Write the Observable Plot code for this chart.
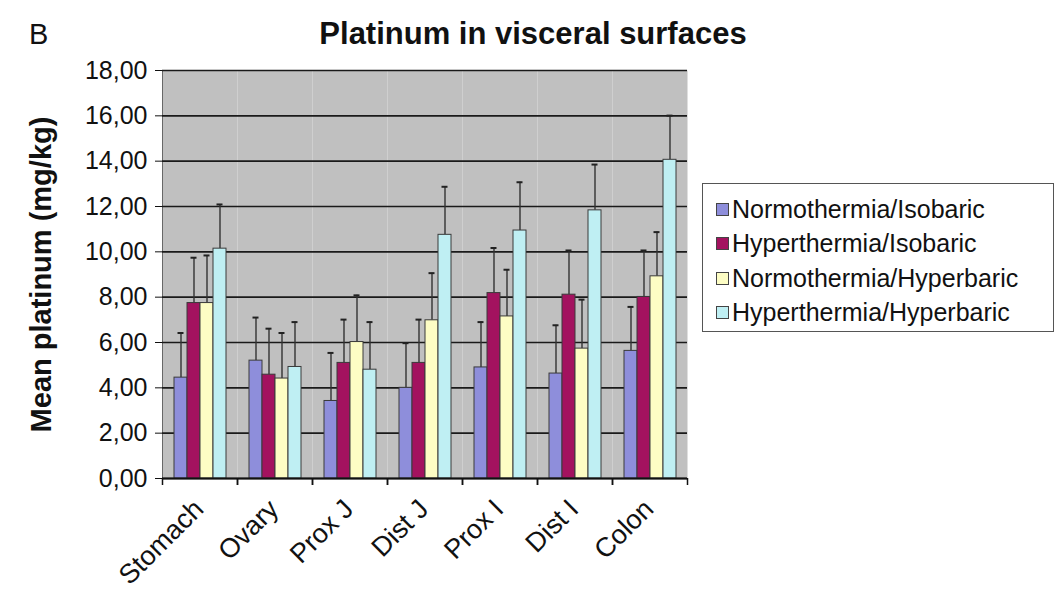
<!DOCTYPE html>
<html>
<head>
<meta charset="utf-8">
<script src="https://cdn.jsdelivr.net/npm/d3@7"></script>
<script src="https://cdn.jsdelivr.net/npm/@observablehq/plot@0.6"></script>
<style>
  html, body { margin: 0; padding: 0; background: #fff; }
  #wrap { position: relative; width: 1059px; height: 592px; font-family: "Liberation Sans", Arial, sans-serif; color: #111; }
  #chart { position: absolute; left: 0; top: 0; }
  #title { position: absolute; left: 533px; top: 16px; transform: translateX(-50%); font-weight: bold; font-size: 31px; white-space: nowrap; }
  #panel { position: absolute; left: 29px; top: 18px; font-size: 29px; }
  #legend { position: absolute; left: 702px; top: 183px; width: 352px; height: 149px; border: 1.5px solid #555; box-sizing: border-box; padding: 8px 0 0 13px; }
  .item { display: flex; align-items: center; height: 34.5px; font-size: 25px; white-space: nowrap; }
  .sw { width: 11px; height: 11px; border: 1px solid #444; margin-right: 3px; flex: none; }
  svg [aria-label="y-axis label"] text, svg g[aria-label="y-axis label"] { font-weight: bold; font-size: 29px; }
</style>
</head>
<body>
<div id="wrap">
  <div id="chart"></div>
  <div id="panel">B</div>
  <div id="title">Platinum in visceral surfaces</div>
  <div id="legend"></div>
</div>
<script>
const categories = ["Stomach", "Ovary", "Prox J", "Dist J", "Prox I", "Dist I", "Colon"];
const series = ["Normothermia/Isobaric", "Hyperthermia/Isobaric", "Normothermia/Hyperbaric", "Hyperthermia/Hyperbaric"];
const colors = ["#8e8edb", "#a3125f", "#fdfdc4", "#bfeff3"];

const normIso = [4.45, 5.20, 3.42, 4.00, 4.90, 4.63, 5.63];
const normIsoSD = [1.97, 1.90, 2.12, 1.97, 2.00, 2.13, 1.94];
const hyperIso = [7.74, 4.58, 5.10, 5.10, 8.18, 8.11, 8.01];
const hyperIsoSD = [2.00, 2.03, 1.91, 1.91, 1.99, 1.95, 2.05];
const normHyp = [7.74, 4.41, 6.02, 6.98, 7.15, 5.73, 8.92];
const normHypSD = [2.10, 2.01, 2.06, 2.08, 2.06, 2.16, 1.95];
const hyperHyp = [10.14, 4.92, 4.80, 10.75, 10.94, 11.83, 14.06];
const hyperHypSD = [1.95, 1.98, 2.10, 2.12, 2.13, 2.02, 1.95];

const yTicks = [0, 2, 4, 6, 8, 10, 12, 14, 16, 18];

const means = [normIso, hyperIso, normHyp, hyperHyp];
const sds = [normIsoSD, hyperIsoSD, normHypSD, hyperHypSD];
const data = [];
categories.forEach((c, i) => {
  series.forEach((s, j) => {
    data.push({cat: c, series: s, value: means[j][i], top: means[j][i] + sds[j][i]});
  });
});

const fmt = d => d.toFixed(2).replace(".", ",");

const chart = Plot.plot({
  width: 1059,
  height: 592,
  marginTop: 70,
  marginBottom: 114,
  marginLeft: 162,
  marginRight: 372,
  style: {fontFamily: "'Liberation Sans', Arial, sans-serif", fontSize: "25px", color: "#111", background: "#fff", overflow: "visible"},
  fx: {domain: categories, padding: 0, axis: null},
  x: {domain: series, paddingOuter: 0.75, paddingInner: 0, axis: null},
  y: {domain: [0, 18], ticks: yTicks, tickFormat: fmt, tickSize: 7, tickPadding: 8,
      label: "Mean platinum (mg/kg)", labelAnchor: "center", labelOffset: 132, labelArrow: "none", line: true},
  color: {domain: series, range: colors},
  marks: [
    Plot.frame({fill: "#c0c0c0", stroke: null}),
    Plot.gridY(yTicks, {stroke: "#1a1a1a", strokeOpacity: 1, strokeWidth: 1.7}),
    Plot.ruleX(data, {fx: "cat", x: "series", y1: "value", y2: "top", stroke: "#333", strokeWidth: 1.4}),
    Plot.tickY(data, {fx: "cat", x: "series", y: "top", stroke: "#222", strokeWidth: 2, insetLeft: 3.5, insetRight: 3.5}),
    Plot.barY(data, {fx: "cat", x: "series", y: "value", fill: "series", stroke: "#3a3a3a", strokeWidth: 1}),
    Plot.ruleY([0], {stroke: "#111", strokeWidth: 2}),
    Plot.axisFx({anchor: "bottom", tickSize: 7, tickFormat: () => "", label: null, dx: -37.5, stroke: "#111", strokeWidth: 1.5}),
    Plot.axisFx([categories[categories.length - 1]], {anchor: "bottom", tickSize: 7, tickFormat: () => "", label: null, dx: 37.5, stroke: "#111", strokeWidth: 1.5}),
    Plot.axisFx({anchor: "bottom", tickSize: 0, tickRotate: -45, tickPadding: 26, label: null, fontSize: 27, dx: -1})
  ]
});
document.getElementById("chart").appendChild(chart);

const legend = document.getElementById("legend");
series.forEach((s, j) => {
  const item = document.createElement("div");
  item.className = "item";
  const sw = document.createElement("span");
  sw.className = "sw";
  sw.style.background = colors[j];
  item.appendChild(sw);
  item.appendChild(document.createTextNode(s));
  legend.appendChild(item);
});
</script>
</body>
</html>
